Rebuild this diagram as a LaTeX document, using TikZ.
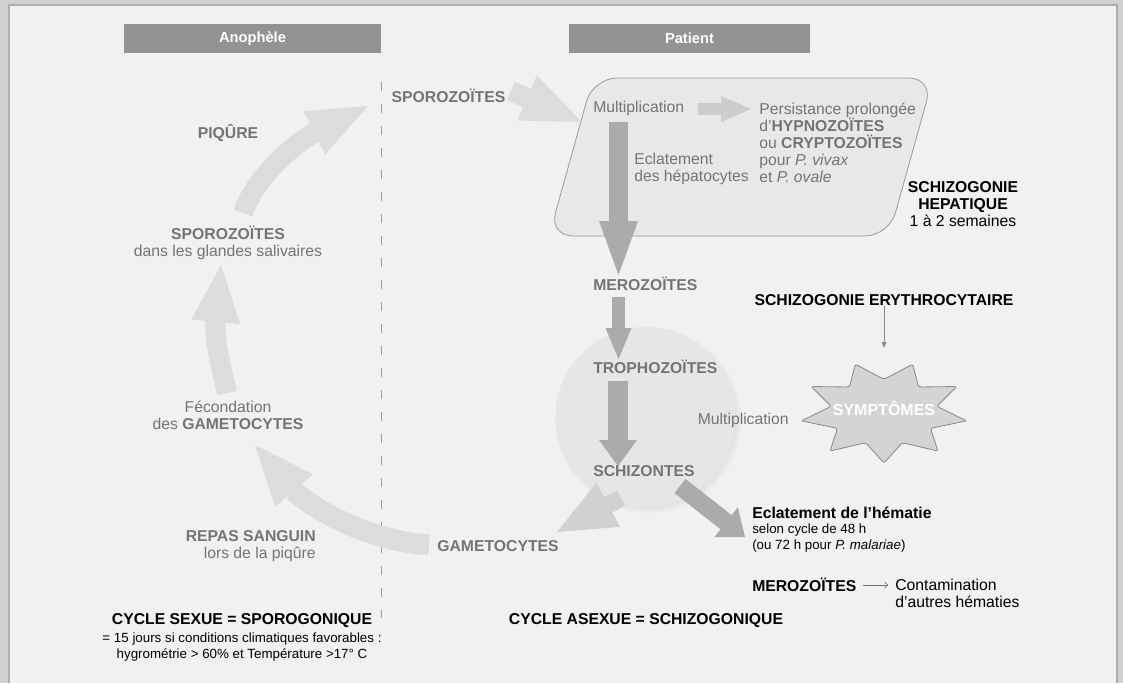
\documentclass[tikz,border=0pt]{standalone}
\usepackage{fontspec}
\setmainfont{Liberation Sans}
\usepackage{tikz}
\usetikzlibrary{arrows.meta, positioning, shadows}

\definecolor{rimgrey}{HTML}{D0D0D0}
\definecolor{rimline}{HTML}{ADADAD}
\definecolor{bggrey}{HTML}{F1F1F1}
\definecolor{hdrgrey}{HTML}{939393}
\definecolor{txtgrey}{HTML}{747474}
\definecolor{pale}{HTML}{DCDCDC}
\definecolor{palemid}{HTML}{D1D1D1}
\definecolor{darkarr}{HTML}{ABABAB}
\definecolor{smallarr}{HTML}{CDCDCD}
\definecolor{liver}{HTML}{E8E8E8}
\definecolor{liverline}{HTML}{9C9C9C}
\definecolor{cellgrey}{HTML}{E6E6E6}
\definecolor{burst}{HTML}{D4D4D4}
\definecolor{burstline}{HTML}{8A8A8A}

\newcommand{\bigsz}{\fontsize{11.8}{12.75}\selectfont}
\newcommand{\smallsz}{\fontsize{10}{12}\selectfont}

\begin{document}
\begin{tikzpicture}[x=0.75pt,y=-0.75pt,line cap=butt,
  txt/.style={inner sep=0pt,text=txtgrey,font=\bigsz},
  txtb/.style={inner sep=0pt,text=txtgrey,font=\bigsz\bfseries},
  blk/.style={inner sep=0pt,text=black,font=\bigsz\bfseries},
  note/.style={inner sep=0pt,text=black,font=\smallsz},
  hdr/.style={fill=hdrgrey,text=white,font=\fontsize{11}{13}\selectfont\bfseries,
    minimum height=21.75pt,inner sep=0pt},
  fat/.style n args={3}{line width=#1,-{Triangle[width=#2,length=#3,line width=0pt]}},
  thin arrow/.style={draw=burstline,line width=0.6pt,-{Triangle[width=3.6pt,length=4.5pt]}}]

  \useasboundingbox (0,0) rectangle (1123,683);
  \fill[rimgrey] (0,0) rectangle (1123,683);
  \fill[bggrey] (10,6) rectangle (1116,683);
  \draw[rimline,line width=1.6pt] (9,683) -- (9,5) -- (1117,5) -- (1117,683);

  \node[hdr,minimum width=192.75pt] (anoph) at (252.5,38.5) {Anophèle};
  \node[hdr,minimum width=180.75pt] (patient) at (689.5,38.5) {Patient};

  \draw[liverline,line width=0.6pt,dash pattern=on 7pt off 9.5pt] (381,82) -- (381,618);

  \draw[liverline,fill=liver,line width=0.6pt,rounded corners=18pt]
    (549,236) -- (593,78) -- (933,78) -- (889,236) -- cycle;
  \node[circle,fill=cellgrey,minimum size=135pt,
    circular drop shadow={shadow xshift=2pt,shadow yshift=-2pt,opacity=.25,shadow scale=1.04}]
    (cell) at (645.5,417) {};

  \draw[draw=burstline,fill=burst,line width=0.6pt,rounded corners=1.5pt,shift={(884,412)}]
    plot[samples at={0,...,17},variable=\k]
    ({90+20*\k}:{84*(0.82+0.18*cos(180*\k))} and {51*(0.82+0.18*cos(180*\k))}) -- cycle;

  \coordinate (piq-s) at (243,213);
  \coordinate (piq-e) at (368,106);
  \coordinate (fec-s) at (227,393);
  \coordinate (fec-e) at (221,265);
  \coordinate (rep-s) at (429,545);
  \coordinate (rep-e) at (255,445);
  \coordinate (spo-s) at (511,91);
  \coordinate (spo-e) at (582,122);
  \coordinate (gam-s) at (621,498);
  \coordinate (gam-e) at (557,532);
  \coordinate (mul-s) at (698,109);
  \coordinate (mul-e) at (751,109);
  \coordinate (hep-s) at (618.5,122);
  \coordinate (hep-e) at (618.5,275);
  \coordinate (mer-s) at (618.5,297);
  \coordinate (mer-e) at (618.5,359);
  \coordinate (tro-s) at (618,381);
  \coordinate (tro-e) at (618,466);
  \coordinate (ecl-s) at (680,486);
  \coordinate (ecl-e) at (745,537);
  \coordinate (symp-top) at (884,348);

  \draw[pale,fat={15pt}{36pt}{45pt}] (piq-s) .. controls (256,175) and (298,141) .. (piq-e);
  \draw[pale,fat={15pt}{36.75pt}{42.75pt}] (fec-s) .. controls (222,370) and (214,340) .. (fec-e);
  \draw[pale,fat={15.75pt}{37.5pt}{45pt}] (rep-s) .. controls (360,540) and (304,502) .. (rep-e);
  \path[pale]
    (spo-s) edge[fat={15pt}{36.75pt}{45pt}] (spo-e);
  \path[palemid]
    (gam-s) edge[fat={13pt}{37.5pt}{43.5pt}] (gam-e);
  \path[smallarr]
    (mul-s) edge[fat={9pt}{19.5pt}{22.5pt}] (mul-e);
  \path[darkarr]
    (hep-s) edge[fat={14.25pt}{29.25pt}{40.5pt}] (hep-e)
    (mer-s) edge[fat={9.75pt}{19.5pt}{23.25pt}] (mer-e)
    (tro-s) edge[fat={15pt}{28.5pt}{19.5pt}] (tro-e)
    (ecl-s) edge[fat={13.5pt}{28.5pt}{18pt}] (ecl-e);

  \node[txtb] (piq) at (228,133) {PIQÛRE};
  \node[txtb,align=center] (sporog) at (228,243) {SPOROZOÏTES\\\mdseries dans les glandes salivaires};
  \node[txt,align=center] (fec) at (228,415) {Fécondation\\des \textbf{GAMETOCYTES}};
  \node[txtb,align=right,anchor=east] (repas) at (316,546) {REPAS SANGUIN\\\mdseries lors de la piqûre};
  \node[txtb] (gamet) at (498,546) {GAMETOCYTES};
  \node[txtb] (sporop) at (448.5,96) {SPOROZOÏTES};
  \node[txt,anchor=west] (multh) at (593,108) {Multiplication};
  \node[txt,align=left,anchor=west] (eclhep) at (634,169) {Eclatement\\des hépatocytes};
  \node[txt,align=left,anchor=west] (persist) at (759,143)
    {Persistance prolongée\\d’\textbf{HYPNOZOÏTES}\\ou \textbf{CRYPTOZOÏTES}\\pour \textit{P. vivax}\\et \textit{P. ovale}};
  \node[blk,align=center] (schhep) at (963,204) {SCHIZOGONIE\\HEPATIQUE\\\mdseries 1 à 2 semaines};
  \node[txtb,anchor=west] (merog) at (593,284) {MEROZOÏTES};
  \node[txtb,anchor=west] (tropho) at (593,367) {TROPHOZOÏTES};
  \node[txtb,anchor=west] (schiz) at (593,471) {SCHIZONTES};
  \node[txt,anchor=east] (multe) at (789,420) {Multiplication};
  \node[blk] (schery) at (884,300) {SCHIZOGONIE ERYTHROCYTAIRE};
  \node[blk,text=white,font=\fontsize{12}{13}\selectfont\bfseries] (symp) at (884,408) {SYMPTÔMES};
  \node[blk,anchor=west] (eclhem) at (752,513) {Eclatement de l’hématie};
  \node[note,align=left,below=3pt of eclhem.south west,anchor=north west] (eclsub)
    {selon cycle de 48 h\\(ou 72 h pour \textit{P. malariae})};
  \node[blk,anchor=west] (merob) at (752,585) {MEROZOÏTES};
  \node[txt,text=black,align=left,anchor=west] (contam) at (895,593.5) {Contamination\\d’autres hématies};
  \node[blk] (cycas) at (646,621) {CYCLE ASEXUE = SCHIZOGONIQUE};
  \node[blk] (cycs) at (242,621) {CYCLE SEXUE = SPOROGONIQUE};
  \node[note,align=center,below=3pt of cycs] (cycsub)
    {= 15 jours si conditions climatiques favorables :\\hygrométrie > 60\% et Température >17° C};

  \draw[thin arrow] (schery) -- (symp-top);
  \draw[txtgrey,line width=0.5pt,-{Straight Barb[length=2.5pt,width=4.5pt]},shorten <=5pt,shorten >=5pt]
    (merob) -- (contam.west |- merob);
\end{tikzpicture}
\end{document}
